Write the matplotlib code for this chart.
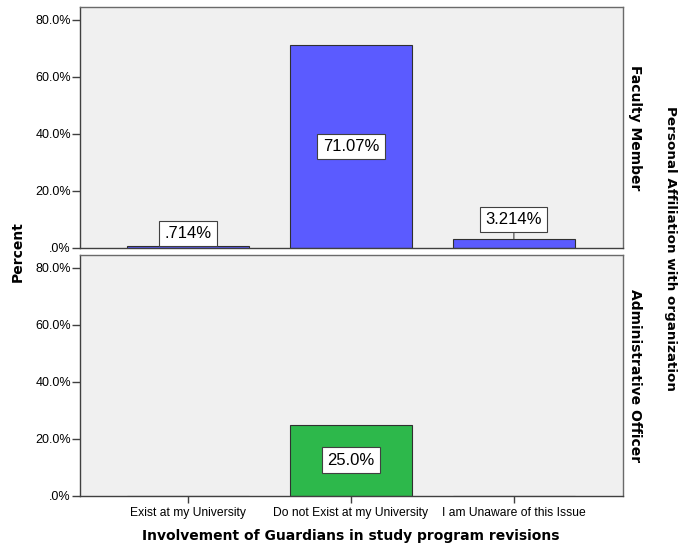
import matplotlib
matplotlib.use("Agg")
import matplotlib.pyplot as plt
from matplotlib.ticker import FuncFormatter

plt.rcParams['font.family'] = ['Liberation Sans', 'DejaVu Sans']

categories = ["Exist at my University", "Do not Exist at my University", "I am Unaware of this Issue"]
faculty_pct = [0.714, 71.07, 3.214]
admin_pct = [0.0, 25.0, 0.0]
faculty_labels = [".714%", "71.07%", "3.214%"]
admin_labels = [None, "25.0%", None]
panel_names = ["Faculty Member", "Administrative Officer"]
yticks = [0, 20, 40, 60, 80]

W, H = 679, 551
fig = plt.figure(figsize=(W / 100, H / 100), dpi=100)

def frac_box(x0, y0, x1, y1):
    return [x0 / W, 1 - y1 / H, (x1 - x0) / W, (y1 - y0) / H]

ax_top = fig.add_axes(frac_box(80, 7, 623, 248))
ax_bot = fig.add_axes(frac_box(80, 255, 623, 496))

bg = "#F0F0F0"
bar_colors = [["#5B5BFF", "#5B5BFF", "#5B5BFF"], ["#2DB84B", "#2DB84B", "#2DB84B"]]
bold_font = ['DejaVu Sans']

def pct_fmt(v, pos):
    s = f"{v:.1f}%"
    return s[1:] if s.startswith("0") else s

for i, (ax, vals, labs) in enumerate([(ax_top, faculty_pct, faculty_labels),
                                      (ax_bot, admin_pct, admin_labels)]):
    ax.set_facecolor(bg)
    xs = list(range(len(categories)))
    ax.bar(xs, vals, width=0.75, color=bar_colors[i], edgecolor="#303030", linewidth=0.8, zorder=2)
    ax.set_xlim(-0.664, 2.67)
    ax.set_ylim(0, 84.4)
    ax.set_yticks(yticks)
    ax.yaxis.set_major_formatter(FuncFormatter(pct_fmt))
    ax.tick_params(axis='y', labelsize=9, length=6, width=1, color="#404040", pad=0.5)
    for sp in ax.spines.values():
        sp.set_color("#6A6A6A")
        sp.set_linewidth(1)
    ax.spines['left'].set_color("#404040")
    ax.spines['bottom'].set_color("#404040")
    if i == 0:
        ax.set_xticks([])
    else:
        ax.set_xticks(xs)
        ax.set_xticklabels(categories, fontsize=8.7)
        ax.tick_params(axis='x', length=5, width=1, color="#404040", pad=3)
    for x, v, lab in zip(xs, vals, labs):
        if lab is None:
            continue
        box = dict(boxstyle="square,pad=0.32", facecolor="white", edgecolor="#404040", linewidth=0.8)
        if v > 15:
            ax.text(x, v / 2, lab, ha="center", va="center", fontsize=12, bbox=box, zorder=4)
        elif v < 1:
            ax.annotate(lab, xy=(x, v), xytext=(0, 3.5), textcoords="offset points",
                        ha="center", va="bottom", fontsize=12, bbox=box, zorder=4)
        else:
            ax.annotate(lab, xy=(x, v), xytext=(0, 8.5), textcoords="offset points",
                        ha="center", va="bottom", fontsize=12, bbox=box, zorder=4,
                        arrowprops=dict(arrowstyle="-", color="#404040", lw=0.8,
                                        shrinkA=0, shrinkB=0))
    ax.text(1.01, 0.5, panel_names[i], transform=ax.transAxes, rotation=-90,
            ha="left", va="center", fontsize=10, fontweight="bold", family=bold_font)

fig.text(18 / W, 1 - 252 / H, "Percent", rotation=90, ha="center", va="center",
         fontsize=10, fontweight="bold", family=bold_font)
fig.text(351 / W, 1 - 536 / H, "Involvement of Guardians in study program revisions",
         ha="center", va="center", fontsize=10, fontweight="bold", family=bold_font)
fig.text(670 / W, 1 - 248 / H, "Personal Affiliation with organization", rotation=-90,
         ha="center", va="center", fontsize=9.7, fontweight="bold", family=bold_font)

fig.savefig("out.png", dpi=100, facecolor="white")
